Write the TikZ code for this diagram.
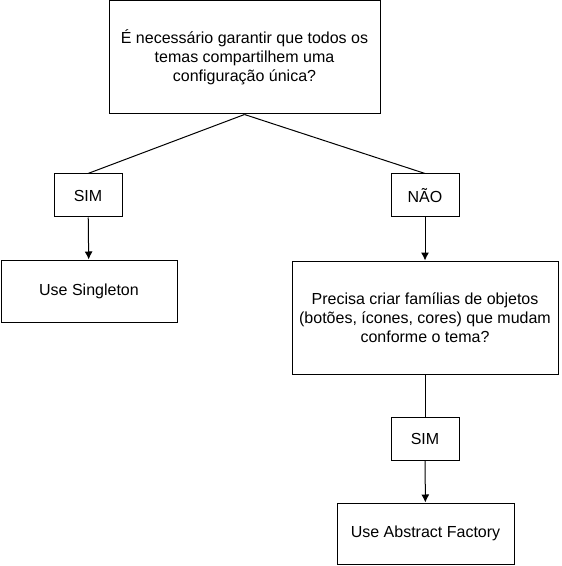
\documentclass[tikz,border=0pt]{standalone}
\usepackage{fontspec}
\setmainfont{Liberation Sans}
\usepackage{tikz}
\usetikzlibrary{arrows.meta}

\begin{document}
\begin{tikzpicture}[x=0.75pt, y=-0.75pt, line width=0.75pt,
  >={Latex[length=6pt,width=6pt]},
  every node/.style={font=\fontsize{12}{14.25}\selectfont, align=center, inner sep=0pt},
  box/.style={draw, rectangle},
  answer/.style={box, minimum width=51pt, minimum height=32.25pt}]
  \useasboundingbox (0,0) rectangle (561,566);

  \node [box, minimum width=203.25pt, minimum height=84.75pt] (q1) at (244.5,57.5)
    {É necessário garantir que todos os\\temas compartilhem uma\\configuração única?};
  \node [answer] (sim1) at (88,195.5) {SIM};
  \node [answer] (nao) at (425,195.5) {NÃO};
  \node [box, minimum width=132pt, minimum height=46.5pt] (singleton) at (89,291) {Use Singleton};
  \node [box, minimum width=199.5pt, minimum height=84.75pt] (q2) at (425,317.5)
    {Precisa criar famílias de objetos\\(botões, ícones, cores) que mudam\\conforme o tema?};
  \node [answer] (sim2) at (425,438.5) {SIM};
  \node [box, minimum width=132.75pt, minimum height=45.75pt] (factory) at (425.5,533.5) {Use Abstract Factory};

  \draw (q1.south) -- (sim1.north);
  \draw (q1.south) -- (nao.north);
  \draw [->] (sim1) -- (singleton);
  \draw [->] (nao) -- (q2);
  \draw (q2) -- (sim2);
  \draw [->] (sim2) -- (factory);
\end{tikzpicture}
\end{document}
